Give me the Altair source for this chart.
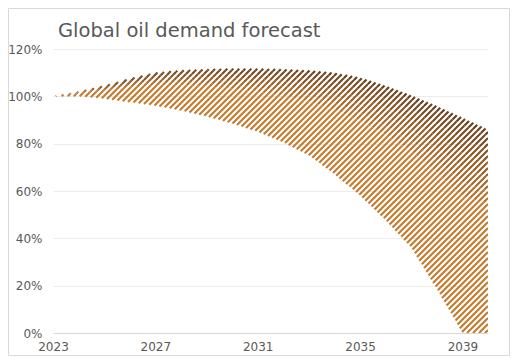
import altair as alt
import numpy as np
import pandas as pd

# ---- data ----
title_text = ["Global oil demand forecast"]
years = list(range(2023, 2041))
upper = [100, 102, 104.5, 107.5, 110, 111, 111.5, 111.7, 111.7, 111.5, 111, 110, 108, 104.5, 100.5, 96, 91, 86]
lower = [100, 100, 99, 97.5, 96, 94, 91.5, 88.5, 85, 80.5, 75, 67, 58, 47.5, 36, 18.5, 0, 0]
x_ticks = [2023, 2027, 2031, 2035, 2039]
y_ticks = [0, 20, 40, 60, 80, 100, 120]

# ---- layout ----
W, H = 435, 284
X0, X1 = 2023, 2040
Y0, Y1 = 0, 120
SPACING = 6.0
DARK = np.array([0x66, 0x40, 0x1E])
ORANGE = np.array([0xC2, 0x7C, 0x2E])
LEVELS = 7
FADE = 0.40

def col(level):
    t = level / (LEVELS - 1)
    c = DARK * (1 - t) + ORANGE * t
    return "#%02x%02x%02x" % tuple(int(round(v)) for v in c)

# ---- build hatch segments clipped to the band between the curves ----
px = np.arange(0, W + 0.001, 0.25)
yr = X0 + px / W * (X1 - X0)
u = np.interp(yr, years, upper)
l = np.interp(yr, years, lower)
pyu = H - (u - Y0) / (Y1 - Y0) * H
pyl = H - (l - Y0) / (Y1 - Y0) * H

rows = []
for c in np.arange(2.0, W + H + SPACING, SPACING):
    py = c - px
    inside = (py >= pyu) & (py <= pyl) & (py >= 0) & (py <= H)
    idx = np.where(inside)[0]
    if len(idx) == 0:
        continue
    breaks = np.where(np.diff(idx) > 1)[0]
    runs = np.split(idx, breaks + 1)
    for run in runs:
        if len(run) < 2:
            continue
        span = np.maximum(pyl[run] - pyu[run], 1e-6)
        f = (py[run] - pyu[run]) / span
        lev = np.clip(np.floor(f / FADE * (LEVELS - 1) + 0.5), 0, LEVELS - 1).astype(int)
        start = 0
        for k in range(1, len(run) + 1):
            if k == len(run) or lev[k] != lev[start]:
                a = run[start]
                b = run[min(k, len(run) - 1)]
                if b != a:
                    rows.append({
                        "x": X0 + px[a] / W * (X1 - X0),
                        "x2": X0 + px[b] / W * (X1 - X0),
                        "y": Y0 + (H - py[a]) / H * (Y1 - Y0),
                        "y2": Y0 + (H - py[b]) / H * (Y1 - Y0),
                        "color": col(lev[start]),
                    })
                start = k

hatch = pd.DataFrame(rows)

FONT = "DejaVu Sans"
GRAY = "#595959"

xscale = alt.Scale(domain=[X0, X1], nice=False, zero=False)
yscale = alt.Scale(domain=[Y0, Y1], nice=False)

hatch_layer = alt.Chart(hatch).mark_rule(strokeWidth=2.1, clip=True).encode(
    x=alt.X("x:Q", scale=xscale,
            axis=alt.Axis(values=x_ticks, format="d", title=None, grid=False,
                          ticks=False, domainColor="#D9D9D9", domainWidth=1,
                          labelColor=GRAY, labelFont=FONT, labelFontSize=12,
                          labelPadding=8, labelFlush=False)),
    x2="x2:Q",
    y=alt.Y("y:Q", scale=yscale,
            axis=alt.Axis(values=y_ticks, labelExpr="datum.value + '%'", title=None,
                          grid=True, gridColor="#EBEBEB", domain=False, ticks=False,
                          labelColor=GRAY, labelFont=FONT, labelFontSize=12,
                          labelPadding=11)),
    y2="y2:Q",
    color=alt.Color("color:N", scale=None),
)

title_layer = alt.Chart(pd.DataFrame({"t": title_text})).mark_text(
    align="left", baseline="alphabetic", font=FONT, fontSize=19.5, color=GRAY
).encode(x=alt.value(5), y=alt.value(-12), text="t:N")

frame = alt.Chart(pd.DataFrame({"a": [0]})).mark_rect(
    fill=None, stroke="#D9D9D9", strokeWidth=1
).encode(
    x=alt.value(-44.5), x2=alt.value(W + 21.5),
    y=alt.value(-40.5), y2=alt.value(H + 22.5),
)

chart = alt.layer(hatch_layer, title_layer, frame).properties(
    width=W, height=H,
    autosize=alt.AutoSizeParams(type="none"),
    padding={"left": 45, "top": 41, "right": 22, "bottom": 23},
    background="white",
).configure_view(stroke=None)

chart.save("out.html", embed_options={"renderer": "svg", "actions": False})
